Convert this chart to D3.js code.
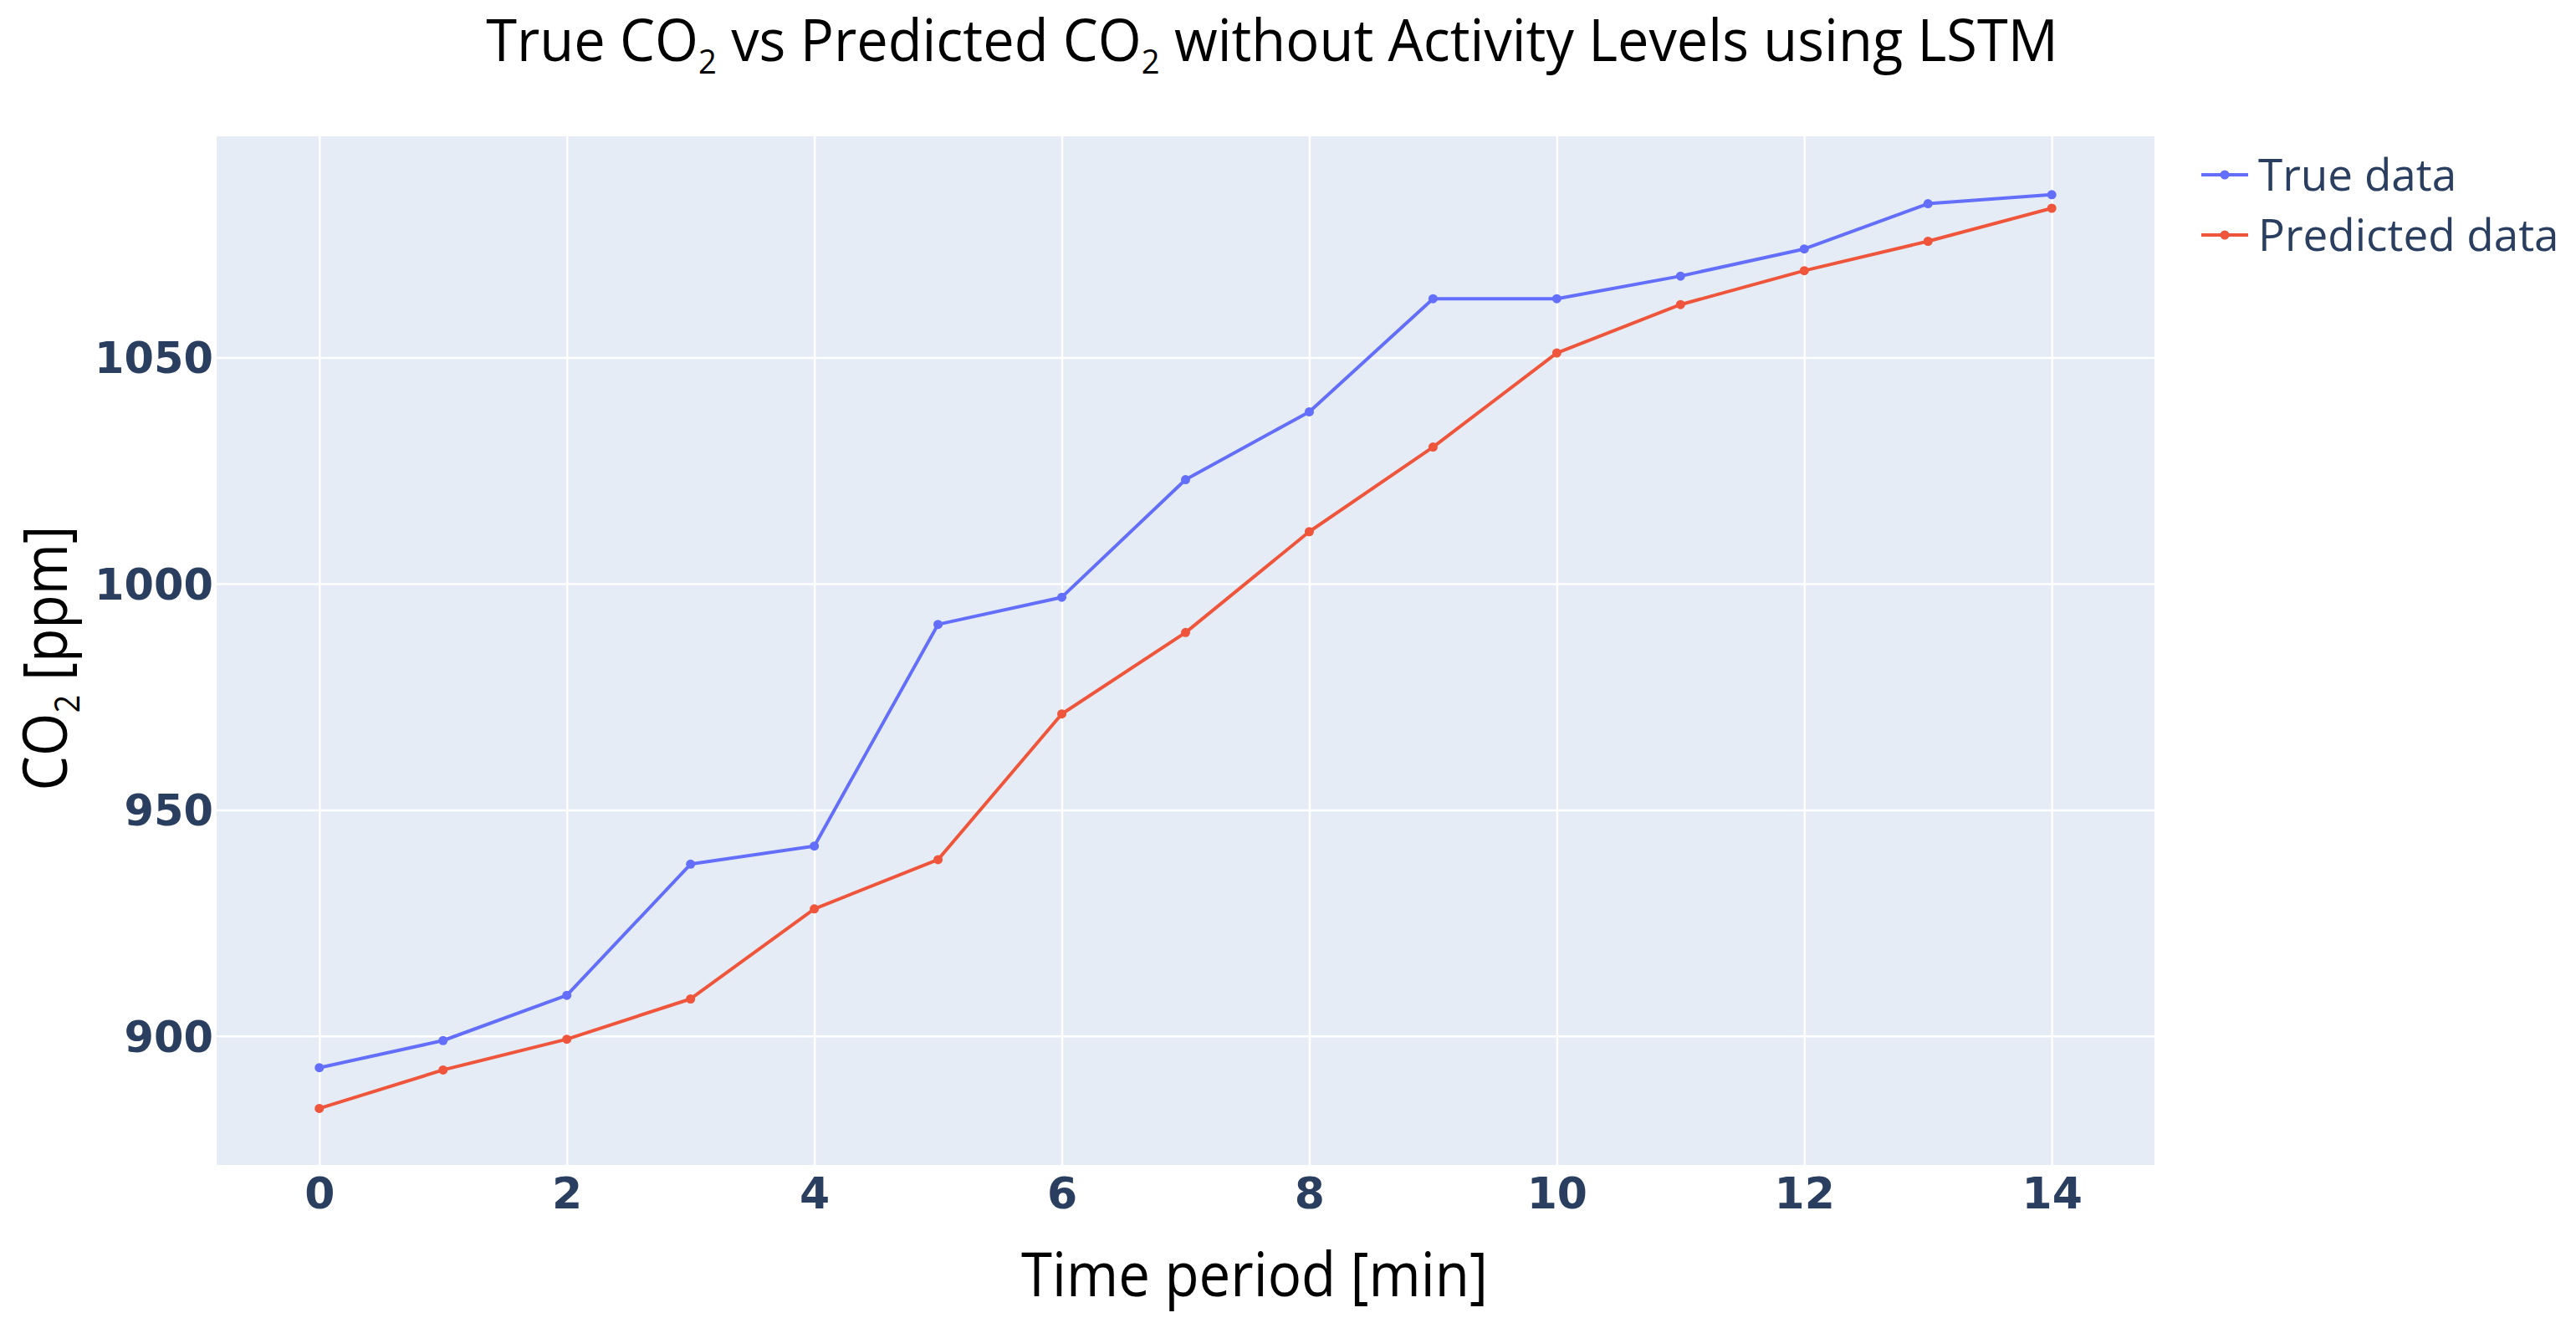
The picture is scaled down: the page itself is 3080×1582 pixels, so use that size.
<!DOCTYPE html>
<html>
<head>
<meta charset="utf-8">
<script src="https://cdn.jsdelivr.net/npm/d3@7"></script>
<style>
  body { margin: 0; background: #fff; }
</style>
</head>
<body>
<svg id="chart"></svg>
<script>
// data
var minutes = [0, 1, 2, 3, 4, 5, 6, 7, 8, 9, 10, 11, 12, 13, 14];
var trueCO2 = [893, 899, 909, 938, 942, 991, 997, 1023, 1038, 1063, 1063, 1068, 1074, 1084, 1086];
var predCO2 = [884, 892.5, 899.3, 908.2, 928.1, 939, 971.2, 989.2, 1011.5, 1030.2, 1051, 1061.7, 1069.2, 1075.7, 1083];
var xTicks = [0, 2, 4, 6, 8, 10, 12, 14];
var yTicks = [900, 950, 1000, 1050];
var seriesNames = ["True data", "Predicted data"];
var seriesColors = ["#636efa", "#ef553b"];

var W = 3080, H = 1582;
var plotL = 259, plotR = 2576, plotT = 163, plotB = 1393;
var sans = "'Open Sans', sans-serif";
var tickFont = "'DejaVu Sans', sans-serif";

var svg = d3.select("#chart").attr("width", W).attr("height", H);

var x = d3.scaleLinear().domain([-0.83, 14.83]).range([plotL, plotR]);
var y = d3.scaleLinear().domain([871.5, 1098.9]).range([plotB, plotT]);

// plot background
svg.append("rect")
  .attr("x", plotL).attr("y", plotT)
  .attr("width", plotR - plotL).attr("height", plotB - plotT)
  .attr("fill", "#e5ecf6");

// grid
svg.append("g").attr("transform", "translate(0," + plotB + ")")
  .call(d3.axisBottom(x).tickValues(xTicks).tickSize(-(plotB - plotT)).tickFormat(""))
  .call(g => g.select(".domain").remove())
  .selectAll("line").attr("stroke", "#fff").attr("stroke-width", 2.5);

svg.append("g").attr("transform", "translate(" + plotL + ",0)")
  .call(d3.axisLeft(y).tickValues(yTicks).tickSize(-(plotR - plotL)).tickFormat(""))
  .call(g => g.select(".domain").remove())
  .selectAll("line").attr("stroke", "#fff").attr("stroke-width", 2.5);

// tick labels
var xAx = svg.append("g").attr("transform", "translate(0," + plotB + ")")
  .call(d3.axisBottom(x).tickValues(xTicks).tickSize(0).tickPadding(52).tickFormat(d3.format("d")));
xAx.select(".domain").remove();
xAx.selectAll("text")
  .style("font-family", tickFont).style("font-weight", "bold")
  .style("font-size", "52px").attr("fill", "#2a3f5f").attr("dy", 0);

var yAx = svg.append("g").attr("transform", "translate(" + (plotL - 4) + ",0)")
  .call(d3.axisLeft(y).tickValues(yTicks).tickSize(0).tickPadding(0).tickFormat(d3.format("d")));
yAx.select(".domain").remove();
yAx.selectAll("text")
  .style("font-family", tickFont).style("font-weight", "bold")
  .style("font-size", "51px").attr("fill", "#2a3f5f").attr("dy", "0.36em");

// lines
var series = [trueCO2, predCO2];
series.forEach(function(vals, s) {
  var pts = minutes.map((m, i) => [m, vals[i]]);
  svg.append("path")
    .datum(pts)
    .attr("fill", "none")
    .attr("stroke", seriesColors[s])
    .attr("stroke-width", 4)
    .attr("stroke-linejoin", "round")
    .attr("d", d3.line().x(d => x(d[0])).y(d => y(d[1])));
  svg.append("g").selectAll("circle")
    .data(pts).enter().append("circle")
    .attr("cx", d => x(d[0])).attr("cy", d => y(d[1]))
    .attr("r", 5.5).attr("fill", seriesColors[s]);
});

// squeeze a text horizontally to a target width
function fitWidth(sel, target) {
  var w = sel.node().getComputedTextLength();
  return target / w;
}

// title
var title = svg.append("text")
  .attr("text-anchor", "middle")
  .style("font-family", sans).style("font-size", "70px").attr("fill", "#000");
title.append("tspan").text("True CO");
title.append("tspan").style("font-size", "40px").attr("dy", 15).text("2");
title.append("tspan").attr("dy", -15).text(" vs Predicted CO");
title.append("tspan").style("font-size", "40px").attr("dy", 15).text("2");
title.append("tspan").attr("dy", -15).text(" without Activity Levels using LSTM");
var kt = fitWidth(title, 1880);
title.attr("transform", "translate(1521,73) scale(" + kt + ",1)");

// x title
var xt = svg.append("text")
  .attr("text-anchor", "middle")
  .style("font-family", sans).style("font-size", "73px").attr("fill", "#000")
  .text("Time period [min]");
var kx = fitWidth(xt, 558);
xt.attr("transform", "translate(1500,1550) scale(" + kx + ",1)");

// y title
var yt = svg.append("text")
  .attr("text-anchor", "middle")
  .style("font-family", sans).style("font-size", "73px").attr("fill", "#000");
yt.append("tspan").text("CO");
yt.append("tspan").style("font-size", "42px").attr("dy", 15).text("2");
yt.append("tspan").attr("dy", -15).text(" [ppm]");
var ky = fitWidth(yt, 317);
yt.attr("transform", "translate(80,787) rotate(-90) scale(" + ky + ",1)");

// legend
var legY = [209, 281];
seriesNames.forEach(function(name, s) {
  var g = svg.append("g").attr("transform", "translate(0," + legY[s] + ")");
  g.append("line").attr("x1", 2632).attr("x2", 2688)
    .attr("stroke", seriesColors[s]).attr("stroke-width", 4);
  g.append("circle").attr("cx", 2660).attr("r", 5.5).attr("fill", seriesColors[s]);
  g.append("text").attr("x", 2700).attr("y", 19)
    .style("font-family", sans).style("font-size", "53px")
    .attr("fill", "#2a3f5f").text(name);
});
</script>
</body>
</html>
